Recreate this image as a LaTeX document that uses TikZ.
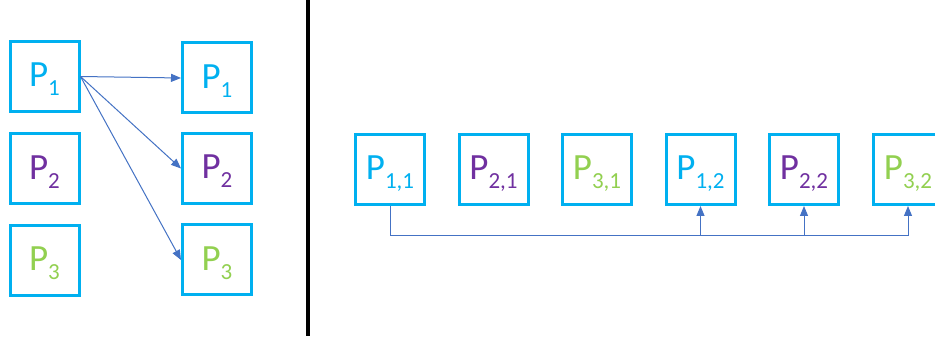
\documentclass[tikz,border=0pt]{standalone}
\usepackage{fontspec}
\setmainfont{Carlito}
\usetikzlibrary{arrows.meta}
\definecolor{boxblue}{HTML}{00B0F0}
\definecolor{pcyan}{HTML}{00B0F0}
\definecolor{ppurple}{HTML}{7030A0}
\definecolor{pgreen}{HTML}{92D050}
\definecolor{arrblue}{HTML}{4472C4}
\newcommand{\psub}[1]{P\raisebox{-9pt}{\fontsize{23}{23}\selectfont #1}}
\tikzset{
  pbox/.style={draw=boxblue, line width=3pt, minimum width=69pt, minimum height=70pt,
    inner sep=0pt, font=\fontsize{37}{37}\selectfont, text height=30pt, text depth=9pt},
  conn/.style={draw=arrblue, line width=1pt},
  tip/.style={-{Triangle[length=10pt,width=8pt]}},
  divider/.style={draw=black, line width=4pt}
}
\begin{document}
\begin{tikzpicture}[x=1pt,y=-1pt]
\clip (0,0) rectangle (935,339);
\fill[white] (0,0) rectangle (935,339);
% left part
\node[pbox, text=pcyan] (L1) at (44.5,76.5) {\psub{1}};
\node[pbox, text=ppurple] (L2) at (44.5,169) {\psub{2}};
\node[pbox, text=pgreen] (L3) at (44.5,260.5) {\psub{3}};
\node[pbox, text=pcyan] (R1) at (217,78) {\psub{1}};
\node[pbox, text=ppurple] (R2) at (217,168.5) {\psub{2}};
\node[pbox, text=pgreen] (R3) at (217,260) {\psub{3}};
\draw[conn, tip] (L1.east) -- (R1.west);
\draw[conn, tip] (L1.east) -- (R2.west);
\draw[conn, tip] (L1.east) -- (R3.west);
% divider
\coordinate (dtop) at (308,0);
\coordinate (dbot) at (308,336);
\draw[divider] (dtop) -- (dbot);
% right part
\node[pbox, text=pcyan] (B1) at (390,169.5) {\psub{1,1}};
\node[pbox, text=ppurple] (B2) at (493.5,169.5) {\psub{2,1}};
\node[pbox, text=pgreen] (B3) at (597,169.5) {\psub{3,1}};
\node[pbox, text=pcyan] (B4) at (700.5,169.5) {\psub{1,2}};
\node[pbox, text=ppurple] (B5) at (804,169.5) {\psub{2,2}};
\node[pbox, text=pgreen] (B6) at (908,169.5) {\psub{3,2}};
\coordinate (c6) at (908,236);
\coordinate (c4) at (700.5,236);
\coordinate (c5) at (804,236);
\draw[conn, tip] (B1.south) |- (c6) -- (B6.south);
\draw[conn, tip] (c4) -- (B4.south);
\draw[conn, tip] (c5) -- (B5.south);
\end{tikzpicture}
\end{document}
